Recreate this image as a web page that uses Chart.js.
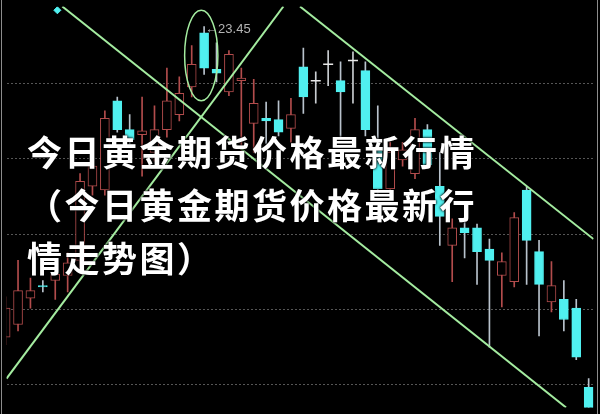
<!DOCTYPE html>
<html>
<head>
<meta charset="utf-8">
<script src="https://cdn.jsdelivr.net/npm/chart.js@4.4.1/dist/chart.umd.min.js"></script>
<style>
  body { margin: 0; background: #000; }
  #wrap { position: relative; width: 600px; height: 414px; overflow: hidden; background: #000; }
  #kTitle {
    position: absolute; left: 27px; top: 124px; width: 470px;
    color: #fff; font-family: "Noto Sans CJK SC", sans-serif; font-weight: 700;
    font-size: 35px; line-height: 53px; letter-spacing: 2.5px;
    text-shadow: 0 0 3px #000, 0 0 2px #000;
  }
</style>
</head>
<body>
<div id="wrap">
  <canvas id="kChart" width="600" height="414"></canvas>
  <div id="kTitle">今日黄金期货价格最新行情（今日黄金期货价格最新行情走势图）</div>
</div>
<script>
// 캔들 데이터 (시가 / 고가 / 저가 / 종가)
const openP  = [20.98, 21.08, 21.29, 21.39, 21.43, 21.47, 21.59, 22.18, 22.15, 22.86,
                22.63, 22.59, 22.45, 22.63, 22.75, 22.97, 23.40, 23.11, 22.93, 23.02,
                22.68, 22.72, 22.71, 22.64, 23.13, 23.02, 23.15, 23.02, 23.18, 23.10,
                22.49, 22.16, 22.39, 22.28, 22.63, 22.18, 21.71, 21.85, 21.85, 21.68,
                21.47, 21.42, 22.15, 21.66, 21.26, 21.28, 21.21, 20.58];
const highP  = [21.30, 21.59, 21.45, 21.43, 21.59, 21.65, 22.28, 22.45, 22.78, 22.89,
                22.75, 22.89, 22.82, 23.12, 23.05, 23.30, 23.45, 23.32, 23.26, 23.12,
                23.03, 22.85, 22.86, 22.88, 23.28, 23.09, 23.26, 23.17, 23.25, 23.17,
                22.82, 22.53, 22.53, 22.72, 22.67, 22.45, 21.92, 21.92, 21.88, 21.76,
                21.65, 21.97, 22.18, 21.75, 21.58, 21.43, 21.28, 20.65];
const lowP   = [20.92, 21.03, 21.21, 21.34, 21.28, 21.34, 21.53, 22.11, 22.11, 22.61,
                22.49, 22.26, 22.38, 22.57, 22.70, 22.89, 23.07, 23.01, 22.90, 22.45,
                22.45, 22.52, 22.58, 22.53, 22.76, 22.84, 22.98, 22.57, 22.84, 22.58,
                22.12, 22.11, 22.34, 22.24, 22.32, 21.71, 21.42, 21.61, 21.40, 20.90,
                21.22, 21.38, 21.40, 20.99, 21.18, 21.03, 20.80, 20.22];
const closeP = [21.21, 21.35, 21.35, 21.38, 21.48, 21.57, 22.22, 22.34, 22.72, 22.63,
                22.55, 22.62, 22.63, 22.86, 22.92, 23.15, 23.12, 23.08, 23.23, 23.04,
                22.84, 22.70, 22.61, 22.75, 22.89, 23.02, 23.15, 22.93, 23.18, 22.63,
                22.16, 22.45, 22.47, 22.63, 22.35, 21.94, 21.85, 21.81, 21.66, 21.59,
                21.58, 21.93, 21.75, 21.40, 21.39, 21.12, 20.82, 20.30];

// 가로 점선 눈금
const gridY = [20.6, 21.2, 21.8, 22.4, 23.0];

// 추세선 (x = 캔들 번호, y = 가격)
const trendA = [[4.57, 23.61], [45.18, 20.42]];
const trendB = [[0.07, 20.65], [22.39, 23.61]];
const trendC = [[23.73, 23.61], [47.39, 21.76]];

// 고점 표시
const peakIdx = 16;
const peakText = '←23.45';
const ringCenter = [15.77, 23.22];
const ringRadius = [1.34, 0.36];
const markPoint = [4.17, 23.58];

const upColor = '#b24c4c';
const downColor = '#50f0f0';
const lineGreen = '#a4eca0';

var bodyData = [], bodyFill = [], bodyLine = [];
var wickData = [], wickColor = [];
var dojiData = [];

$each = function(arr, fn) { for (var i = 0; i < arr.length; i++) fn(i); };

$each(openP, function(i) {
    var up = closeP[i] > openP[i];
    wickData.push({ x: i, y: [lowP[i], highP[i]] });
    if (openP[i] === closeP[i]) {
        dojiData.push({ x: i, y: openP[i] });
        wickColor.push('#c8ccd0');
        return;
    }
    wickColor.push(up ? upColor : '#b8c2cc');
    bodyData.push({ x: i, y: [openP[i], closeP[i]] });
    bodyFill.push(up ? '#000' : downColor);
    bodyLine.push(up ? upColor : downColor);
});

function toPts(arr) { return arr.map(function(p) { return { x: p[0], y: p[1] }; }); }

// 타원, 고점 라벨, 테두리 그리기
const overlayPlugin = {
    id: 'overlay',
    afterDatasetsDraw(chart) {
        const c = chart.ctx;
        const x = chart.scales.x, y = chart.scales.y;
        c.save();
        const cx = x.getPixelForValue(ringCenter[0]);
        const cy = y.getPixelForValue(ringCenter[1]);
        const rx = Math.abs(x.getPixelForValue(ringCenter[0] + ringRadius[0]) - cx);
        const ry = Math.abs(y.getPixelForValue(ringCenter[1] + ringRadius[1]) - cy);
        c.strokeStyle = lineGreen;
        c.lineWidth = 1.5;
        c.beginPath();
        c.ellipse(cx, cy, rx, ry, 0, 0, Math.PI * 2);
        c.stroke();

        c.fillStyle = '#b4b4b4';
        c.font = '13px "Liberation Sans", Arial, sans-serif';
        c.textBaseline = 'middle';
        c.fillText(peakText, x.getPixelForValue(peakIdx) + 1, y.getPixelForValue(highP[peakIdx]) + 3);

        c.strokeStyle = '#8c8c8c';
        c.lineWidth = 1;
        c.beginPath();
        c.moveTo(1.5, 0); c.lineTo(1.5, chart.height);
        c.moveTo(597.5, 0); c.lineTo(597.5, chart.height);
        c.stroke();
        c.restore();
    }
};

const ctx = document.getElementById('kChart').getContext('2d');
const kChart = new Chart(ctx, {
    type: 'bar',
    data: {
        datasets: [
            { type: 'line', data: toPts(trendA), borderColor: lineGreen, borderWidth: 2, pointRadius: 0, order: -1 },
            { type: 'line', data: toPts(trendB), borderColor: lineGreen, borderWidth: 2, pointRadius: 0, order: -1 },
            { type: 'line', data: toPts(trendC), borderColor: lineGreen, borderWidth: 2, pointRadius: 0, order: -1 },
            { type: 'line', data: [{ x: markPoint[0], y: markPoint[1] }], showLine: false,
              pointStyle: 'rectRot', pointRadius: 3.5, backgroundColor: downColor, borderColor: downColor, order: -1 },
            { type: 'line', data: dojiData, showLine: false, pointStyle: 'line', pointRadius: 5,
              pointBorderWidth: 1.5, borderColor: '#e8e8e8', order: 0 },
            { data: bodyData, backgroundColor: bodyFill, borderColor: bodyLine, borderWidth: 1,
              borderSkipped: false, barThickness: 9, grouped: false, order: 1 },
            { data: wickData, backgroundColor: wickColor, borderWidth: 0,
              barThickness: 1, grouped: false, order: 2 }
        ]
    },
    options: {
        responsive: false,
        animation: false,
        events: [],
        layout: { padding: 0 },
        plugins: { legend: { display: false }, tooltip: { enabled: false } },
        scales: {
            x: { type: 'linear', min: 0.07, max: 47.39, offset: false, display: false },
            y: {
                min: 20.42, max: 23.61,
                afterBuildTicks: function(s) { s.ticks = gridY.map(function(v) { return { value: v }; }); },
                ticks: { display: false },
                grid: { color: '#565656', drawTicks: false, lineWidth: 1 },
                border: { display: false, dash: [2, 2] }
            }
        }
    },
    plugins: [overlayPlugin]
});
</script>
</body>
</html>
